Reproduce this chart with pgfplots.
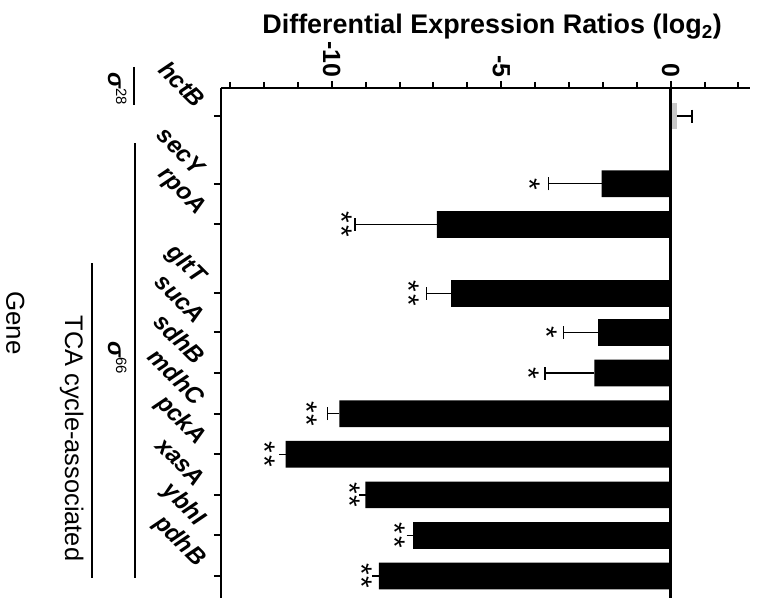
\documentclass[border=0pt]{standalone}
\usepackage{pgfplots}
\pgfplotsset{compat=1.18}
\usepackage{pgfplotstable}
\usepackage{fontspec}
\setmainfont{Liberation Sans}

\newcommand\rstar{\hbox{\rotatebox{-90}{*}}}
\newcommand\onestar{\vbox{\offinterlineskip\rstar}}
\newcommand\twostar{\vbox{\offinterlineskip\rstar\kern1.8bp\rstar}}

% gene positions down the chart, bar value, error
\pgfplotstableread{
pos   val    err
1.67  -2.04  1.56
2.67  -6.90  2.41
4.37  -6.48  0.72
5.33  -2.14  1.02
6.33  -2.25  1.46
7.33  -9.78  0.34
8.33  -11.36 0
9.33  -9.01  0
10.33 -7.60  0
11.33 -8.61  0
}\negbars

\pgfplotstableread{
pos  val   err
0    0.18  0.45
}\hctb

% significance marks (number of asterisks)
\pgfplotstableread{
pos   x      n
1.67  -3.86  1
2.67  -9.40  2
4.37  -7.42  2
5.33  -3.35  1
6.33  -3.88  1
7.33  -10.43 2
8.33  -11.67 2
9.33  -9.17  2
10.33 -7.84  2
11.33 -8.81  2
}\stars

\begin{document}
\begin{tikzpicture}
\begin{axis}[
    scale only axis,
    width=529bp, height=510bp,
    xmin=-13.27, xmax=2.34,
    ymin=-0.69, ymax=11.87,
    y dir=reverse,
    axis x line*=top,
    axis y line*=left,
    axis line style={line width=2bp},
    tick style={line width=2bp, black},
    tick align=outside,
    major tick length=7bp,
    minor tick length=6bp,
    xtick={-10,-5,0},
    xticklabels={-10,-5,0},
    minor xtick={-13,-12,...,2},
    xticklabel style={rotate=-90, anchor=east, font=\fontsize{25}{28}\selectfont\bfseries},
    ytick={0,1.67,2.67,4.37,5.33,6.33,7.33,8.33,9.33,10.33,11.33},
    yticklabels={hctB,secY,rpoA,gltT,sucA,sdhB,mdhC,pckA,xasA,ybhI,pdhB},
    yticklabel style={rotate=-45, anchor=east, xshift=-15bp, font=\fontsize{24}{27}\selectfont\bfseries\itshape},
    clip=false,
]
\addplot[xbar, bar shift=0pt, bar width=26.7bp, fill=black, draw=none,
    error bars/.cd, x dir=minus, x explicit, error mark=|,
    error bar style={line width=1.2bp, black},
    error mark options={line width=1.4bp, mark size=6.5bp, black}]
    table[x=val, y=pos, x error=err] {\negbars};
\addplot[xbar, bar shift=0pt, bar width=26.7bp, fill=black!22, draw=none,
    error bars/.cd, x dir=plus, x explicit, error mark=|,
    error bar style={line width=1.2bp, black},
    error mark options={line width=1.4bp, mark size=6.5bp, black}]
    table[x=val, y=pos, x error=err] {\hctb};
\addplot[draw=none, no markers, point meta=explicit symbolic,
    nodes near coords={\ifnum\pgfplotspointmeta=2 \twostar\else\onestar\fi},
    every node near coord/.append style={anchor=east, inner sep=0pt,
        font=\fontsize{30}{32}\selectfont}]
    table[x=x, y=pos, meta=n] {\stars};

% zero line
\draw[line width=2.6bp] (axis cs:0,-0.69) -- (axis cs:0,11.87);

% title
\node[anchor=base, font=\fontsize{27}{30}\selectfont\bfseries]
    at ([yshift=54bp]axis cs:-5.27,-0.69) {Differential Expression Ratios (log\textsubscript{2})};

% group brackets
\draw[line width=2bp] (axis cs:-15.84,-1.21) -- (axis cs:-15.84,-0.27);
\draw[line width=2bp] (axis cs:-15.81,0.665) -- (axis cs:-15.81,11.38);
\draw[line width=2bp] (axis cs:-17.08,3.62) -- (axis cs:-17.08,11.38);

\node[rotate=-90, anchor=base, inner sep=0pt] at (axis cs:-16.60,-0.68)
    {\fontsize{24}{26}\selectfont\bfseries\itshape σ\raisebox{8bp}{\fontsize{15}{16}\selectfont\mdseries\upshape 28}};
\node[rotate=-90, anchor=base, inner sep=0pt] at (axis cs:-16.60,5.96)
    {\fontsize{24}{26}\selectfont\bfseries\itshape σ\raisebox{8bp}{\fontsize{15}{16}\selectfont\mdseries\upshape 66}};
\node[rotate=-90, anchor=base, inner sep=0pt, font=\fontsize{25.5}{28}\selectfont]
    at (axis cs:-17.87,7.94) {TCA cycle-associated};
\node[rotate=-90, anchor=base, inner sep=0pt, font=\fontsize{26}{28}\selectfont]
    at (axis cs:-19.60,5.10) {Gene};
\end{axis}
\pgfresetboundingbox
\path[use as bounding box] ([xshift=-221bp]current axis.south west)
    rectangle ([xshift=9bp,yshift=88bp]current axis.north east);
\end{tikzpicture}
\end{document}
